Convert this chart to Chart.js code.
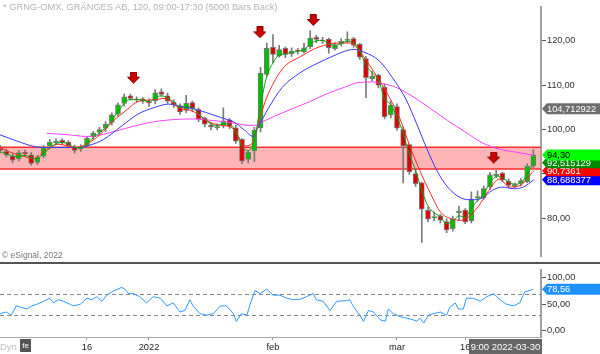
<!DOCTYPE html>
<html><head><meta charset="utf-8">
<script src="https://cdn.jsdelivr.net/npm/chart.js@4/dist/chart.umd.min.js"></script>
<style>
html,body{margin:0;padding:0;background:#fff;}
#wrap{position:relative;width:600px;height:354px;overflow:hidden;font-family:"Liberation Sans",Arial,sans-serif;}
#main{position:absolute;left:0;top:0;}
#rsi{position:absolute;left:0;top:263px;}
.sep{position:absolute;left:0;top:262px;width:600px;height:2px;background:#555;}
.title{position:absolute;left:3px;top:2px;font-size:9.3px;color:#b4b4b4;white-space:nowrap;}
.copy{position:absolute;left:2px;top:250px;font-size:8.5px;color:#777;white-space:nowrap;}
.dyn{position:absolute;left:0px;top:341px;font-size:9.5px;color:#c0c0c0;}
.ico{position:absolute;left:20px;top:339px;width:11px;height:13px;background:#555;color:#fff;font-size:8px;line-height:13px;text-align:center;}
.stamp{position:absolute;left:469px;top:339px;width:73px;height:15px;background:#666;color:#fff;font-size:9.5px;line-height:15px;text-align:center;white-space:nowrap;}
</style></head>
<body><div id="wrap">
<canvas id="main" width="600" height="263"></canvas>
<canvas id="rsi" width="600" height="91"></canvas>
<div class="sep"></div>
<div class="title">* GRNG-OMX, GRÄNGES AB, 120, 09:00-17:30 (5000 Bars Back)</div>
<div class="copy">© eSignal, 2022</div>
<div class="dyn">Dyn</div><div class="ico">fe</div>
<div class="stamp">9:00 2022-03-30</div>
</div>
<script>
// ---- data (x = trading-day index, 0 = 16 Dec 2021) ----
const days = [-14,-13,-12,-11,-10,-9,-8,-7,-6,-5,-4,-3,-2,-1,0,1,2,3,4,5,6,7,8,9,10,11,12,13,14,15,16,17,18,19,20,21,22,23,24,25,26,27,28,29,30,31,32,33,34,35,36,37,38,39,40,41,42,43,44,45,46,47,48,49,50,51,52,53,54,55,56,57,58,59,60,61,62,63,64,65,66,67,68,69,70,71,72];
const opens = [95.8,95.1,94.0,93.4,94.9,94.3,92.6,94.0,96.3,97.0,97.6,97.2,96.1,95.6,
96.4,98.4,99.4,100.3,101.6,103.5,105.9,107.6,106.8,106.9,
106.3,106.5,108.5,107.6,106.2,105.4,104.3,106.1,104.5,102.6,
101.0,100.4,100.9,102.2,100.4,97.8,93.3,95.2,100.4,112.4,
118.6,116.6,118.3,117.1,117.9,117.5,118.7,120.8,120.0,120.4,
118.2,119.3,120.1,120.5,119.2,116.0,111.4,112.3,109.6,103.3,
105.2,100.0,96.6,90.1,88.0,81.8,80.1,80.6,79.3,77.7,
81.3,81.9,79.5,84.6,84.6,87.1,89.6,90.2,88.4,87.2,
87.9,88.3,91.9];
const highs = [96.4,95.6,94.6,95.3,95.4,94.8,94.2,96.4,97.8,97.9,98.0,97.5,96.5,96.6,
98.5,99.6,100.5,101.8,103.8,106.0,108.0,108.0,107.4,107.2,
106.9,109.0,109.2,108.2,106.7,105.8,107.7,106.4,104.9,102.8,
101.5,101.3,104.9,102.5,101.0,98.0,95.3,100.5,114.0,119.5,
121.4,119.0,118.6,118.4,118.3,119.4,122.3,121.2,120.8,120.6,
119.6,120.5,122.0,120.8,119.4,116.5,113.2,112.5,110.3,106.4,
105.8,100.6,96.8,91.0,88.2,82.5,81.4,80.9,79.9,80.5,
82.8,82.2,86.0,86.2,87.3,90.3,90.8,90.4,88.9,88.0,
89.0,92.3,95.5];
const lows = [94.8,93.8,92.5,92.9,94.0,92.0,92.1,93.6,95.7,96.6,96.6,95.9,94.7,95.1,
96.0,97.8,98.8,99.6,101.0,103.0,105.3,106.6,106.2,105.9,
105.2,105.8,107.5,105.9,105.0,103.4,103.8,104.0,101.8,100.6,
99.9,100.0,100.4,100.2,96.9,92.3,92.5,92.8,99.5,112.0,
115.0,116.3,116.2,116.5,117.0,117.2,118.2,119.6,119.4,117.2,
117.9,118.8,119.6,118.5,115.8,107.2,111.0,109.4,102.4,102.6,
99.8,88.0,89.9,87.2,74.6,79.2,79.5,79.0,76.8,77.1,
79.6,78.8,79.0,83.9,84.3,86.5,89.2,88.2,87.0,86.9,
87.3,88.0,91.4];
const closes = [95.3,94.3,93.1,94.8,94.5,92.4,93.8,96.0,97.2,97.4,97.0,96.3,95.3,96.2,
98.1,99.2,100.0,101.2,103.3,105.6,107.4,107.0,106.7,106.4,
106.0,108.3,107.9,106.4,105.6,104.0,105.9,104.7,102.3,101.2,
100.6,100.7,102.0,100.7,97.4,92.9,94.9,99.9,112.7,118.3,
116.9,118.0,116.9,117.7,117.7,118.4,120.6,120.3,120.1,118.4,
119.0,119.9,120.3,119.0,116.3,111.7,112.0,110.0,102.9,105.5,
100.3,96.3,90.5,87.8,82.1,79.8,80.4,79.6,77.4,79.9,
81.7,79.2,84.3,84.9,86.7,89.8,90.0,88.6,87.4,87.6,
88.5,91.7,94.3];
const greenMA = [95.0,94.6,94.0,94.0,94.2,93.6,93.5,94.6,95.8,96.8,97.1,96.8,96.0,95.9,
96.9,98.2,99.3,100.4,102.0,104.0,105.9,106.8,106.8,106.6,
106.3,107.2,107.6,107.1,106.2,105.0,105.2,105.0,103.6,102.3,
101.3,100.9,101.3,101.2,99.5,96.2,95.2,97.8,105.5,112.0,
115.0,116.8,117.0,117.4,117.6,118.0,119.3,120.0,120.1,119.3,
119.0,119.4,119.9,119.5,117.8,114.5,112.8,111.2,107.0,105.6,
102.8,99.2,94.5,90.8,86.3,82.8,81.3,80.4,78.8,79.4,
80.6,80.2,82.3,84.0,85.6,88.0,89.4,89.2,88.2,87.7,
88.0,90.0,92.5];
const redDays = [-14.03,-12.36,-10.7,-8.48,-6.81,-4.59,-1.81,-0.15,2.08,4.3,6.52,8.19,10.41,12.63,14.85,17.07,19.29,21.52,23.18,24.29,25.4,26.51,27.35,28.74,30.4,32.07,34.29,36.51,38.73,40.95,42.62,43.73,45.4,47.06,48.73,50.4,52.06,53.73,55.4,57.06,58.73,60.39,61.5,63.17,64.84,66.5,68.17,69.84,72.06];
const redMA = [95.97,94.9,94.19,93.47,95.26,96.68,95.97,96.68,98.82,102.03,104.53,106.31,106.66,107.02,104.88,104.17,102.03,100.96,100.6,98.82,96.33,96.68,99.89,106.31,111.3,114.51,116.29,118.07,119.14,119.5,119.5,118.07,114.86,111.3,107.38,102.74,96.33,90.62,85.63,81.35,79.93,79.57,80.28,82.78,86.34,88.84,87.06,87.41,90.74];
const blueDays = [-14.03,-11.25,-8.48,-6.81,-4.03,-1.26,0.41,2.63,5.41,8.19,10.96,13.18,14.85,17.07,19.29,21.52,23.74,25.4,26.79,27.63,29.29,31.51,34.29,37.07,39.84,42.07,43.18,44.84,47.06,49.29,51.51,53.17,54.84,56.5,58.17,60.39,62.06,63.73,65.39,67.06,68.72,70.39,72.06];
const blueMA = [98.82,97.4,96.18,95.97,95.97,95.97,96.47,97.75,100.6,103.46,105.02,105.74,105.24,104.74,103.81,102.74,101.67,99.89,98.46,100.6,104.88,109.52,112.72,114.86,116.65,117.86,118.07,117.36,115.58,111.66,106.66,101.32,95.61,90.62,87.06,84.56,84.2,84.56,86.34,87.06,86.7,87.06,88.69];
const magentaDays = [-6.53,-2.92,-0.15,1.52,3.74,7.08,10.41,13.74,17.07,20.41,23.74,25.96,27.35,28.18,30.4,33.18,35.96,38.73,41.51,43.73,45.95,47.62,49.84,52.62,55.4,58.17,60.95,63.73,66.5,69.28,72.06];
const magentaMA = [99.18,98.82,98.46,98.61,99.32,100.6,101.67,102.24,102.39,102.03,101.46,100.96,100.96,101.67,103.1,104.74,106.31,108.09,109.52,110.59,110.73,110.37,109.52,107.38,104.74,102.03,99.53,97.04,95.61,94.9,94.19];
const bandLow = 91.1, bandHigh = 96.0;
const arrowDays = [7.5, 27.9, 36.5, 65.6];
const arrowPrices = [111.7, 121.9, 124.7, 93.7];
const priceTicks = [80, 90, 100, 110, 120];
const tagValues = [104.712922, 88.688377, 90.7361, 92.515129, 94.30];
const tagTexts = ['104,712922', '88,688377', '90,7361', '92,515129', '94,30'];
const tagBg = ['#6e6e6e', '#0000ff', '#ff0000', '#008a00', '#00ff00'];
const tagFg = ['#ffffff', '#ffffff', '#ffffff', '#ffffff', '#000000'];
const rsiDays = [-14.0,-13.0,-12.2,-11.4,-10.5,-9.7,-8.9,-8.1,-7.0,-6.0,-5.4,-4.6,-3.8,-2.7,-2.2,-1.1,0,0.8,1.6,2.4,3.2,4.2,5.6,6.1,6.7,7.5,8.5,9.6,10.7,11.8,12.9,13.9,15.0,15.8,16.6,17.1,18.2,19.3,20.4,21.5,22.5,23.6,24.1,24.9,25.8,26.3,27.1,27.9,29.0,30.0,31.1,32.2,33.3,34.4,35.4,36.5,37.0,38.1,39.2,40.3,41.9,42.4,42.9,44.0,44.6,45.4,46.2,47.3,48.1,48.6,49.4,50.5,51.6,52.6,53.2,53.7,54.3,55.1,55.9,57.0,58.0,58.5,59.4,59.9,60.7,61.2,62.3,63.4,64.5,65.6,66.6,67.7,68.8,69.8,70.6,71.7,72.0];
const rsiValues = [32.1,35.1,29.2,46.8,43.8,40.9,46.8,49.7,55.5,61.4,52.6,58.5,55.5,49.7,46.8,49.7,61.4,58.5,64.3,55.5,67.2,74.8,81.9,78.9,70.2,70.2,64.3,52.6,64.3,61.4,46.8,52.6,35.1,38.0,58.5,46.8,32.1,29.2,32.1,46.8,46.8,32.1,17.5,32.1,29.2,49.7,76.0,70.2,78.9,67.2,67.2,61.4,58.5,59.6,64.3,70.2,58.5,55.5,38.0,55.5,56.7,58.5,46.8,29.2,17.5,38.0,35.1,20.4,17.5,40.9,32.1,26.3,23.4,20.4,17.5,23.4,14.6,29.2,32.1,35.1,29.2,43.8,52.6,40.9,40.9,61.4,61.4,55.5,64.3,70.2,58.5,49.7,46.8,52.6,73.1,77.2,78.56];
const rsiLevels = [70, 30];
const rsiTagValue = 78.56, rsiTagText = '78,56';
const xTickDays = [0, 10, 30, 50, 61];
const xTickLabels = ['16', '2022', 'feb', 'mar', '16'];
const xMin = -14.03, xMax = 73.23;

// ---- setup ----
const FONT = "'Liberation Sans', Arial, sans-serif";
Chart.defaults.font.family = FONT;
Chart.defaults.font.size = 9.3;
Chart.defaults.animation = false;
const fmt = v => v.toFixed(2).replace('.', ',');

function makeArrow() {
  const c = document.createElement('canvas'); c.width = 13; c.height = 12;
  const g = c.getContext('2d');
  g.fillStyle = '#cc0000'; g.strokeStyle = '#8a0000'; g.lineWidth = 1;
  g.beginPath();
  g.moveTo(3.5, 0.5); g.lineTo(9.5, 0.5); g.lineTo(9.5, 5.5); g.lineTo(12.5, 5.5);
  g.lineTo(6.5, 11.5); g.lineTo(0.5, 5.5); g.lineTo(3.5, 5.5); g.closePath();
  g.fill(); g.stroke();
  return c;
}

function drawTag(ctx, x0, y, text, bg, fg) {
  ctx.save();
  ctx.fillStyle = bg;
  ctx.beginPath();
  ctx.moveTo(x0 + 1, y); ctx.lineTo(x0 + 6, y - 5.5); ctx.lineTo(600, y - 5.5);
  ctx.lineTo(600, y + 5.5); ctx.lineTo(x0 + 6, y + 5.5); ctx.closePath(); ctx.fill();
  ctx.fillStyle = fg; ctx.font = '9.3px ' + FONT; ctx.textBaseline = 'middle'; ctx.textAlign = 'left';
  ctx.fillText(text, x0 + 6, y + 0.5);
  ctx.restore();
}

const bandPlugin = {
  id: 'band',
  beforeDatasetsDraw(c) {
    const {ctx, chartArea: a, scales: {y}} = c;
    const t = y.getPixelForValue(bandHigh), b = y.getPixelForValue(bandLow);
    ctx.save();
    ctx.fillStyle = 'rgba(255,120,120,0.55)';
    ctx.fillRect(a.left, t, a.right - a.left, b - t);
    ctx.strokeStyle = '#ff3030'; ctx.lineWidth = 1.5;
    ctx.beginPath(); ctx.moveTo(a.left, t); ctx.lineTo(a.right, t); ctx.moveTo(a.left, b); ctx.lineTo(a.right, b); ctx.stroke();
    ctx.restore();
  }
};
const tagPlugin = {
  id: 'tags',
  afterDraw(c) {
    const {ctx, chartArea: a, scales: {y}} = c;
    tagValues.forEach((v, i) => drawTag(ctx, a.right, y.getPixelForValue(v), tagTexts[i], tagBg[i], tagFg[i]));
  }
};

const wick = days.map((d, i) => ({x: d, y: [lows[i], highs[i]]}));
const body = days.map((d, i) => ({x: d, y: [opens[i], closes[i]]}));
const bodyColors = days.map((d, i) => closes[i] >= opens[i] ? '#00c000' : '#dd0000');
const pts = (xs, ys) => xs.map((x, i) => ({x, y: ys[i]}));

new Chart(document.getElementById('main'), {
  type: 'bar',
  data: {datasets: [
    {type: 'bar', data: wick, backgroundColor: '#7a7a7a', barThickness: 1, grouped: false, order: 10},
    {type: 'bar', data: body, backgroundColor: bodyColors, borderColor: '#7a7a7a', borderWidth: 1, borderSkipped: false, barThickness: 5, grouped: false, order: 9},
    {type: 'line', data: pts(magentaDays, magentaMA), borderColor: '#ff40ff', borderWidth: 1, pointRadius: 0, cubicInterpolationMode: 'monotone', order: 4},
    {type: 'line', data: pts(blueDays, blueMA), borderColor: '#3a3aff', borderWidth: 1, pointRadius: 0, cubicInterpolationMode: 'monotone', order: 3},
    {type: 'line', data: pts(redDays, redMA), borderColor: '#ff2a2a', borderWidth: 1, pointRadius: 0, cubicInterpolationMode: 'monotone', order: 2},
    {type: 'line', data: pts(days, greenMA), borderColor: '#10a010', borderWidth: 1, pointRadius: 0, cubicInterpolationMode: 'monotone', order: 1},
    {type: 'line', data: pts(arrowDays, arrowPrices), showLine: false, pointStyle: makeArrow(), pointRadius: 6, order: 0}
  ]},
  options: {
    responsive: false, animation: false,
    layout: {padding: 0, autoPadding: false},
    plugins: {legend: {display: false}, tooltip: {enabled: false}},
    scales: {
      x: {type: 'linear', min: xMin, max: xMax, display: false, offset: false},
      y: {position: 'right', min: 71.44, max: 127.70,
        afterBuildTicks: a => { a.ticks = priceTicks.map(v => ({value: v})); },
        afterFit: a => { a.width = 59; },
        border: {display: true, color: '#a0a0a0', width: 2},
        grid: {drawOnChartArea: false, tickLength: 5, color: '#555'},
        ticks: {padding: 1, color: '#333', callback: v => fmt(v)}}
    }
  },
  plugins: [bandPlugin, tagPlugin]
});

const rsiPlugin = {
  id: 'rsiExtras',
  beforeDatasetsDraw(c) {
    const {ctx, chartArea: a, scales: {y}} = c;
    ctx.save(); ctx.strokeStyle = '#888'; ctx.lineWidth = 1; ctx.setLineDash([4, 3]);
    rsiLevels.forEach(l => { const py = Math.round(y.getPixelForValue(l)) + 0.5; ctx.beginPath(); ctx.moveTo(a.left, py); ctx.lineTo(a.right, py); ctx.stroke(); });
    ctx.restore();
  },
  afterDraw(c) {
    const {ctx, chartArea: a, scales: {y}} = c;
    drawTag(ctx, a.right, y.getPixelForValue(rsiTagValue), rsiTagText, '#1e90ff', '#ffffff');
  }
};

new Chart(document.getElementById('rsi'), {
  type: 'line',
  data: {datasets: [{data: pts(rsiDays, rsiValues), borderColor: '#3399ff', borderWidth: 1, pointRadius: 0, tension: 0}]},
  options: {
    responsive: false, animation: false,
    layout: {padding: {top: 1, left: 0, right: 0, bottom: 0}, autoPadding: false},
    plugins: {legend: {display: false}, tooltip: {enabled: false}},
    scales: {
      x: {type: 'linear', min: xMin, max: xMax, offset: false,
        afterBuildTicks: a => { a.ticks = xTickDays.map(v => ({value: v})); },
        afterFit: a => { a.height = 17; },
        border: {display: true, color: '#aaa', width: 1},
        grid: {drawOnChartArea: false, tickLength: 3, color: '#999'},
        ticks: {color: '#222', padding: 2, maxRotation: 0, autoSkip: false, callback: v => xTickLabels[xTickDays.indexOf(v)]}},
      y: {position: 'right', min: -12.28, max: 115.79,
        afterBuildTicks: a => { a.ticks = [0, 50, 100].map(v => ({value: v})); },
        afterFit: a => { a.width = 59; },
        border: {display: true, color: '#a0a0a0', width: 2},
        grid: {drawOnChartArea: false, tickLength: 5, color: '#555'},
        ticks: {padding: 1, color: '#333', callback: v => fmt(v)}}
    }
  },
  plugins: [rsiPlugin]
});
</script>
</body></html>
